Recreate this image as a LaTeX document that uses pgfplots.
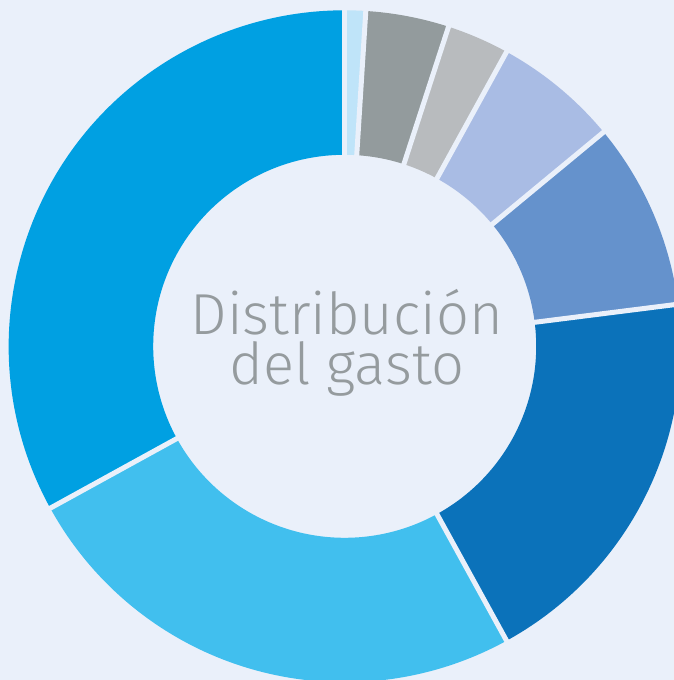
\documentclass[border=0pt]{standalone}
\usepackage{pgfplots}
\pgfplotsset{compat=1.18}
\usepackage{pgfplotstable}
\usepackage{fontspec}
\setmainfont{Fira Sans}[UprightFont=* Light]
\definecolor{bg}{HTML}{EAF0FA}
\definecolor{txt}{HTML}{959B9E}
\definecolor{cA}{HTML}{BFE4F9}
\definecolor{cB}{HTML}{939B9D}
\definecolor{cC}{HTML}{B8BBBE}
\definecolor{cD}{HTML}{A9BCE4}
\definecolor{cE}{HTML}{6592CC}
\definecolor{cF}{HTML}{0B72BA}
\definecolor{cG}{HTML}{41BFEE}
\definecolor{cH}{HTML}{00A0E2}
\pgfplotstableread{
valor color
1 cA
4 cB
3 cC
6 cD
9 cE
19 cF
25 cG
33 cH
}\gasto
\begin{document}
\begin{tikzpicture}
\begin{axis}[x=1bp,y=1bp,xmin=0,xmax=674,ymin=0,ymax=680,
  hide axis, clip=true, axis background/.style={fill=bg}]
\pgfplotsextra{
  \pgfplotstablegetrowsof{\gasto}
  \pgfmathtruncatemacro{\N}{\pgfplotsretval-1}
  \gdef\cum{0}
  \foreach \i in {0,...,\N}{
    \pgfplotstablegetelem{\i}{valor}\of{\gasto}\let\wval\pgfplotsretval
    \pgfplotstablegetelem{\i}{color}\of{\gasto}\let\wcol\pgfplotsretval
    \pgfmathsetmacro{\aA}{90-3.6*\cum}
    \pgfmathsetmacro{\aB}{90-3.6*(\cum+\wval)}
    \fill[\wcol] (axis cs:344.7,333.7) ++(\aA:336bp)
      arc[start angle=\aA,end angle=\aB,radius=336bp]
      -- ++(\aB+180:144.5bp)
      arc[start angle=\aB,end angle=\aA,radius=191.5bp] -- cycle;
    \pgfmathsetmacro{\newcum}{\cum+\wval}\xdef\cum{\newcum}
  }
  \gdef\cum{0}
  \foreach \i in {0,...,\N}{
    \pgfplotstablegetelem{\i}{valor}\of{\gasto}\let\wval\pgfplotsretval
    \pgfmathsetmacro{\aA}{90-3.6*\cum}
    \draw[bg, line width=5bp] (axis cs:344.7,333.7) ++(\aA:185bp) -- ++(\aA:160bp);
    \pgfmathsetmacro{\newcum}{\cum+\wval}\xdef\cum{\newcum}
  }
}
\node[text=txt, anchor=base, inner sep=0pt, font=\fontsize{58}{50}\selectfont] at (axis cs:346.7,345) {Distribución};
\node[text=txt, anchor=base, inner sep=0pt, font=\fontsize{58}{50}\selectfont] at (axis cs:346.7,295) {del gasto};
\end{axis}
\end{tikzpicture}
\end{document}
